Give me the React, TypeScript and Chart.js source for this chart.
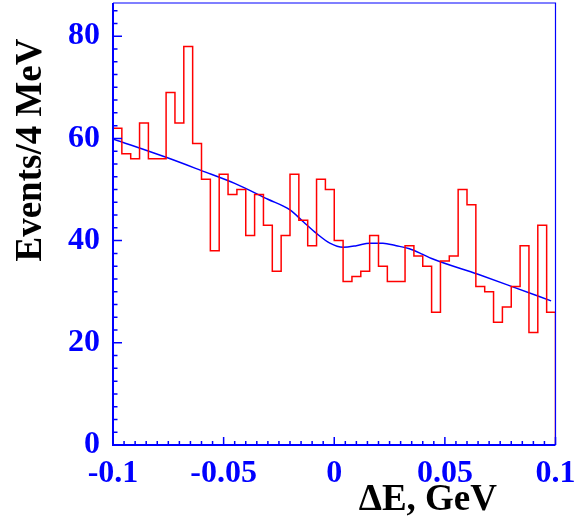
import React, { useEffect, useRef } from "react";
import { Chart, registerables } from "chart.js";

Chart.register(...registerables);

// ---- data ----
const binLow = -0.1;
const binWidth = 0.004;
const binCounts = [
  62, 57, 56, 63, 56, 56, 69, 63, 78, 59,
  52, 38, 53, 49, 50, 41, 49, 43, 34, 41,
  53, 44, 39, 52, 50, 40, 32, 33, 34, 41,
  35, 32, 32, 39, 37, 35, 26, 36, 37, 50,
  47, 31, 30, 24, 27, 31, 39, 22, 43, 26,
];
const fitX = [-0.1, -0.076, -0.06, -0.045, -0.03, -0.02, -0.014, -0.008, -0.002, 0.004, 0.01, 0.016, 0.022, 0.028, 0.034, 0.04, 0.044, 0.065, 0.081, 0.098];
const fitY = [59.9, 56.3, 53.7, 51.2, 48.1, 46.0, 43.7, 41.4, 39.5, 38.7, 39.0, 39.5, 39.5, 39.0, 38.4, 37.3, 36.5, 33.4, 30.9, 28.2];
const xTickValues = [-0.1, -0.05, 0, 0.05, 0.1];
const xTickLabels = ["-0.1", "-0.05", "0", "0.05", "0.1"];
const yTickValues = [0, 20, 40, 60, 80];
const yTickLabels = ["0", "20", "40", "60", "80"];
const xTitle = "\u0394E, GeV";
const yTitle = "Events/4 MeV";
const xMin = -0.1;
const xMax = 0.1;
const yMin = 0;
const yMax = 86.5;

const FONT = '"Liberation Serif", "Times New Roman", serif';
const BLUE = "#0000ff";
const RED = "#ff0000";

function labelFor(values: number[], labels: string[], v: number) {
  let best = 0;
  for (let i = 1; i < values.length; i++) {
    if (Math.abs(values[i] - v) < Math.abs(values[best] - v)) best = i;
  }
  return labels[best];
}

const framePlugin = {
  id: "frame",
  afterDatasetsDraw(chart: any) {
    const { ctx, chartArea, scales } = chart;
    const { left, right, top, bottom } = chartArea;
    const x = scales.x;
    const y = scales.y;
    ctx.save();
    ctx.strokeStyle = BLUE;
    ctx.lineWidth = 1.2;
    ctx.beginPath();
    ctx.moveTo(left, top);
    ctx.lineTo(right, top);
    ctx.lineTo(right, bottom);
    ctx.stroke();
    ctx.lineWidth = 2;
    ctx.beginPath();
    ctx.moveTo(left, top);
    ctx.lineTo(left, bottom);
    ctx.lineTo(right, bottom);
    ctx.stroke();
    ctx.lineWidth = 1.5;
    ctx.beginPath();
    for (let k = 0; k * 2.5 <= yMax; k++) {
      const v = k * 2.5;
      const py = y.getPixelForValue(v);
      const len = k % 8 === 0 ? 9 : 4.5;
      ctx.moveTo(left, py);
      ctx.lineTo(left + len, py);
    }
    for (let k = 0; k <= 40; k++) {
      const v = xMin + k * 0.005;
      const px = x.getPixelForValue(v);
      const len = k % 10 === 0 ? 8 : 4;
      ctx.moveTo(px, bottom);
      ctx.lineTo(px, bottom - len);
    }
    ctx.stroke();
    ctx.restore();
  },
  afterDraw(chart: any) {
    const { ctx } = chart;
    ctx.save();
    ctx.fillStyle = "#000000";
    ctx.font = `bold 37px ${FONT}`;
    ctx.textAlign = "right";
    ctx.textBaseline = "alphabetic";
    ctx.fillText(xTitle, 497, 510);
    ctx.translate(40.5, 150);
    ctx.rotate(-Math.PI / 2);
    ctx.textAlign = "center";
    ctx.fillText(yTitle, 0, 0);
    ctx.restore();
  },
};

function zeroPadding(s: any) {
  s.paddingLeft = 0;
  s.paddingRight = 0;
  s.paddingTop = 0;
  s.paddingBottom = 0;
}

export default function App() {
  const ref = useRef<HTMLCanvasElement | null>(null);

  useEffect(() => {
    const canvas = ref.current;
    if (!canvas) return;

    const histPoints: { x: number; y: number }[] = [{ x: xMin, y: 0 }];
    binCounts.forEach((c, i) => histPoints.push({ x: binLow + i * binWidth, y: c }));
    histPoints.push({ x: xMax, y: binCounts[binCounts.length - 1] });
    histPoints.push({ x: xMax, y: 0 });

    const fitPoints = fitX.map((xv, i) => ({ x: xv, y: fitY[i] }));

    const tickFont = { family: FONT, weight: "bold" as const, size: 32 };

    const chart = new Chart(canvas, {
      type: "line",
      data: {
        datasets: [
          {
            data: histPoints,
            borderColor: RED,
            borderWidth: 1.5,
            stepped: "before",
            pointRadius: 0,
            fill: false,
          },
          {
            data: fitPoints,
            borderColor: BLUE,
            borderWidth: 1.5,
            cubicInterpolationMode: "monotone",
            pointRadius: 0,
            fill: false,
          },
        ],
      },
      options: {
        animation: false,
        responsive: false,
        devicePixelRatio: 1,
        parsing: false,
        layout: { padding: { top: 3, right: 19.5, left: 0, bottom: 0 } },
        plugins: {
          legend: { display: false },
          tooltip: { enabled: false },
        },
        scales: {
          x: {
            type: "linear",
            min: xMin,
            max: xMax,
            afterBuildTicks: (s: any) => {
              s.ticks = xTickValues.map((v) => ({ value: v }));
            },
            afterFit: (s: any) => {
              s.height = 80;
              zeroPadding(s);
            },
            ticks: {
              callback: (v: any) => labelFor(xTickValues, xTickLabels, Number(v)),
              color: BLUE,
              font: tickFont,
              padding: 10,
              maxRotation: 0,
              autoSkip: false,
            },
            grid: { display: false, drawTicks: false },
            border: { display: false },
          },
          y: {
            type: "linear",
            min: yMin,
            max: yMax,
            afterBuildTicks: (s: any) => {
              s.ticks = yTickValues.map((v) => ({ value: v }));
            },
            afterFit: (s: any) => {
              s.width = 113;
              zeroPadding(s);
            },
            ticks: {
              callback: (v: any) => labelFor(yTickValues, yTickLabels, Number(v)),
              color: BLUE,
              font: tickFont,
              padding: 13,
              autoSkip: false,
            },
            grid: { display: false, drawTicks: false },
            border: { display: false },
          },
        },
      },
      plugins: [framePlugin],
    } as any);

    return () => chart.destroy();
  }, []);

  return (
    <div style={{ position: "absolute", left: 0, top: 0, width: 575, height: 525, background: "#ffffff" }}>
      <canvas ref={ref} width={575} height={525} style={{ width: 575, height: 525 }} />
    </div>
  );
}
